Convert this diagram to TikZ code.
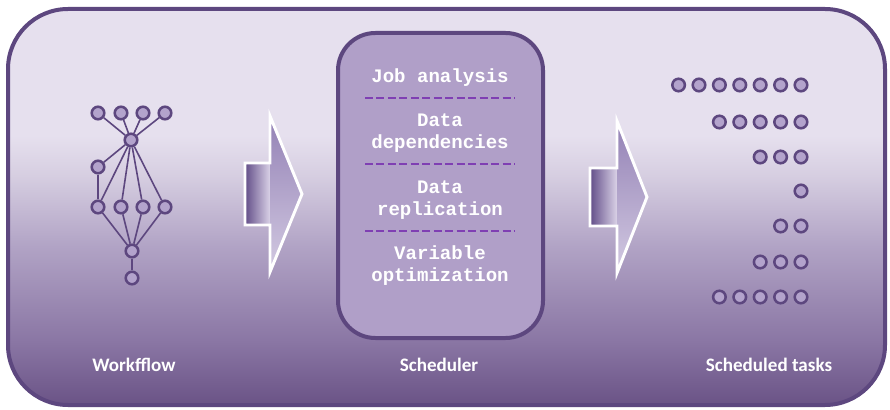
\documentclass[tikz,border=0pt]{standalone}
\usepackage{fontspec}
\setmainfont{Carlito}
\newfontfamily\codefont{Liberation Mono}

\definecolor{edgeclr}{HTML}{5D477F}
\definecolor{dotfill}{HTML}{B3A3CC}
\definecolor{boxfill}{HTML}{B09FC8}
\definecolor{sepclr}{HTML}{7F3FB3}
\definecolor{bgA}{HTML}{E6E0EE}
\definecolor{bgB}{HTML}{D6CEE1}
\definecolor{bgC}{HTML}{B1A3C5}
\definecolor{bgD}{HTML}{8A76A4}
\definecolor{bgE}{HTML}{6A5386}
\definecolor{arrDark}{HTML}{624D88}
\definecolor{arrLight}{HTML}{DAD2E7}
\definecolor{headTop}{HTML}{9381B5}
\definecolor{headBot}{HTML}{D3CAE2}

% fade of the panel, light on top and darker towards the captions
\pgfdeclareverticalshading{panelfade}{100bp}{color(0bp)=(bgE); color(25bp)=(bgE); color(33bp)=(bgD); color(45bp)=(bgC); color(54bp)=(bgB); color(59bp)=(bgA); color(100bp)=(bgA)}

\tikzset{
  wfdot/.style={circle, draw=edgeclr, fill=dotfill, line width=1.9pt, inner sep=0pt, minimum size=9.4pt},
  link/.style={draw=edgeclr, line width=1.2pt},
  steptext/.style={text=white, font=\codefont\bfseries\fontsize{14.3}{16.5}\selectfont, align=center},
  sepline/.style={sepclr, line width=1.6pt, dash pattern=on 6pt off 2.6pt},
  steplabel/.style={text=white, font=\bfseries\fontsize{14.3}{17}\selectfont, anchor=base},
}

% block arrow: left x, body width, head length, centre y, body half height, head half height
\newcommand{\flowarrow}[6]{
	\pgfmathsetmacro{\FAxa}{#1}
	\pgfmathsetmacro{\FAxb}{#1+#2}
	\pgfmathsetmacro{\FAxc}{#1+#2+#3}
	\pgfmathsetmacro{\FAya}{#4-#5}
	\pgfmathsetmacro{\FAyb}{#4+#5}
	\pgfmathsetmacro{\FAha}{#4-#6}
	\pgfmathsetmacro{\FAhb}{#4+#6}
	\fill[left color=arrDark, right color=arrLight] (\FAxa,\FAya) rectangle (\FAxb,\FAyb);
	\fill[top color=headTop, bottom color=headBot] (\FAxb,\FAha) -- (\FAxc,#4) -- (\FAxb,\FAhb) -- cycle;
	\draw[white, line width=2.2pt] (\FAxa,\FAya) -- (\FAxb,\FAya) -- (\FAxb,\FAha) -- (\FAxc,#4)
		-- (\FAxb,\FAhb) -- (\FAxb,\FAyb) -- (\FAxa,\FAyb) -- cycle;
}

\begin{document}
\begin{tikzpicture}[x=0.75pt, y=-0.75pt]
\useasboundingbox (0,0) rectangle (890,410);

\shadedraw[shading=panelfade, draw=edgeclr, line width=3pt, rounded corners=45pt] (8,9) rectangle (885,405);

% workflow graph
\foreach \x [count=\i] in {98,121,143,165} {
	\node[wfdot] (t\i) at (\x,113) {};
	\node[wfdot] (m\i) at (\x,207) {};
}
\node[wfdot] (h) at (131,140) {};
\node[wfdot] (s) at (98,167) {};
\node[wfdot] (j) at (132,251) {};
\node[wfdot] (b) at (132,278) {};

\foreach \i in {1,...,4} {
	\draw[link] (t\i) -- (h);
	\draw[link] (h) -- (m\i);
	\draw[link] (m\i) -- (j);
}
\draw[link] (h) -- (s);
\draw[link] (s) -- (m1);
\draw[link] (j) -- (b);

\flowarrow{245}{25}{32}{194}{31}{78}
\flowarrow{590}{27}{30}{197}{29}{76}

% scheduler box
\node[draw=edgeclr, fill=boxfill, line width=3pt, rounded corners=28pt,
	minimum width=153.75pt, minimum height=228.75pt] (sched) at (440.5,185.5) {};
\node[steptext] (s1) at (440,78) {Job analysis};
\node[steptext] (s2) at (440,133) {Data\\dependencies};
\node[steptext] (s3) at (440,200) {Data\\replication};
\node[steptext] (s4) at (440,266) {Variable\\optimization};
\foreach \y in {98,164,231}
	\draw[sepline] (365,\y) -- (515,\y);

% scheduled tasks, right aligned rows
\foreach \y/\n [count=\r] in {85/7,122/5,157/3,191/1,226/2,262/3,297/5}
	\foreach \c in {1,...,\n}
		\node[wfdot] (q\r-\c) at ({801-(\c-1)*20.4},\y) {};

\node[steplabel] (lwf) at (134,371) {Workfflow};
\node[steplabel] (lsch) at (439,371) {Scheduler};
\node[steplabel] (lst) at (769,371) {Scheduled tasks};
\end{tikzpicture}
\end{document}
